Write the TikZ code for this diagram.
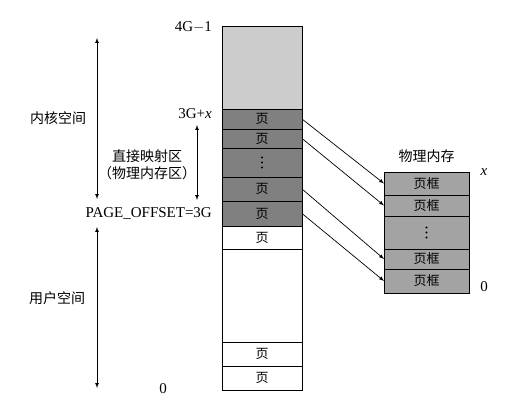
\documentclass[tikz,border=0pt]{standalone}
\usepackage{fontspec}
\setmainfont{Liberation Serif}
\newfontfamily\cjk{Noto Sans CJK SC}
\usetikzlibrary{positioning}
\definecolor{topgray}{gray}{0.80}
\definecolor{pagegray}{gray}{0.50}
\definecolor{framegray}{gray}{0.64}
\tikzset{
	cell/.style={draw, line width=0.9pt, minimum width=80pt, inner sep=0pt, outer sep=0pt,
		font=\cjk\fontsize{13}{13}\selectfont},
	frame/.style={cell, minimum width=85pt, fill=framegray},
	lbl/.style={inner sep=0pt, font=\fontsize{15}{15}\selectfont},
	cjklbl/.style={inner sep=0pt, font=\cjk\fontsize{14}{17}\selectfont},
	span/.style={<->, >=latex, line width=0.7pt},
	map/.style={->, >=latex, line width=0.7pt}
}
\begin{document}
\begin{tikzpicture}[x=1pt, y=-1pt]
	\useasboundingbox (0,0) rectangle (511,412);
	% virtual address space
	\node[cell, fill=topgray, minimum height=83pt] (top) at (262,67.5) {};
	\node[cell, fill=pagegray, minimum height=20pt, below=0pt of top] (p1) {页};
	\node[cell, fill=pagegray, minimum height=19pt, below=0pt of p1] (p2) {页};
	\node[cell, fill=pagegray, minimum height=29pt, below=0pt of p2] (pdots) {};
	\node[cell, fill=pagegray, minimum height=24pt, below=0pt of pdots] (p3) {页};
	\node[cell, fill=pagegray, minimum height=25pt, below=0pt of p3] (p4) {页};
	\node[cell, minimum height=23pt, below=0pt of p4] (u1) {页};
	\node[cell, minimum height=93pt, below=0pt of u1] (ublank) {};
	\node[cell, minimum height=24pt, below=0pt of ublank] (u2) {页};
	\node[cell, minimum height=24pt, below=0pt of u2] (u3) {页};

	% physical memory
	\node[frame, minimum height=23pt] (f1) at (426.5,183.5) {页框};
	\node[frame, minimum height=21pt, below=0pt of f1] (f2) {页框};
	\node[frame, minimum height=33pt, below=0pt of f2] (fdots) {};
	\node[frame, minimum height=20pt, below=0pt of fdots] (f3) {页框};
	\node[frame, minimum height=24pt, below=0pt of f3] (f4) {页框};
	\foreach \dy in {-5,0,5} {
		\fill ([yshift=\dy pt]pdots.center) circle (1.2pt);
		\fill ([yshift=\dy pt]fdots.center) circle (1.2pt);
	}
	\node[cjklbl, above=9pt of f1] (phys) {物理内存};
	\node[lbl, font=\fontsize{15}{15}\selectfont\itshape] (fx) at (484,172) {x};
	\node[lbl] (f0) at (484,287) {0};

	\draw[map] (p1.east) -- (f1.west);
	\draw[map] (p2.east) -- (f2.west);
	\draw[map] (p3.east) -- (f3.west);
	\draw[map] (p4.east) -- (f4.west);

	% address labels
	\node[lbl, anchor=east] (a4g) at (212,27) {4G$-$1};
	\node[lbl, anchor=east] (a3gx) at (212,114) {3G+\textit{x}};
	\node[lbl, anchor=east] (aoff) at (212,213) {PAGE\_OFFSET=3G};
	\node[lbl] (a0) at (163,389) {0};

	% ranges
	\coordinate (k1) at (97,38);
	\coordinate (k2) at (97,199);
	\coordinate (d1) at (197,125);
	\coordinate (d2) at (197,200);
	\coordinate (s1) at (97,227);
	\coordinate (s2) at (97,388);
	\draw[span] (k1) -- (k2);
	\draw[span] (d1) -- (d2);
	\draw[span] (s1) -- (s2);
	\node[cjklbl] (kernel) at (58,118) {内核空间};
	\node[cjklbl, align=center] (direct) at (147,165) {直接映射区\\（物理内存区）};
	\node[cjklbl] (user) at (57,298) {用户空间};
\end{tikzpicture}
\end{document}
